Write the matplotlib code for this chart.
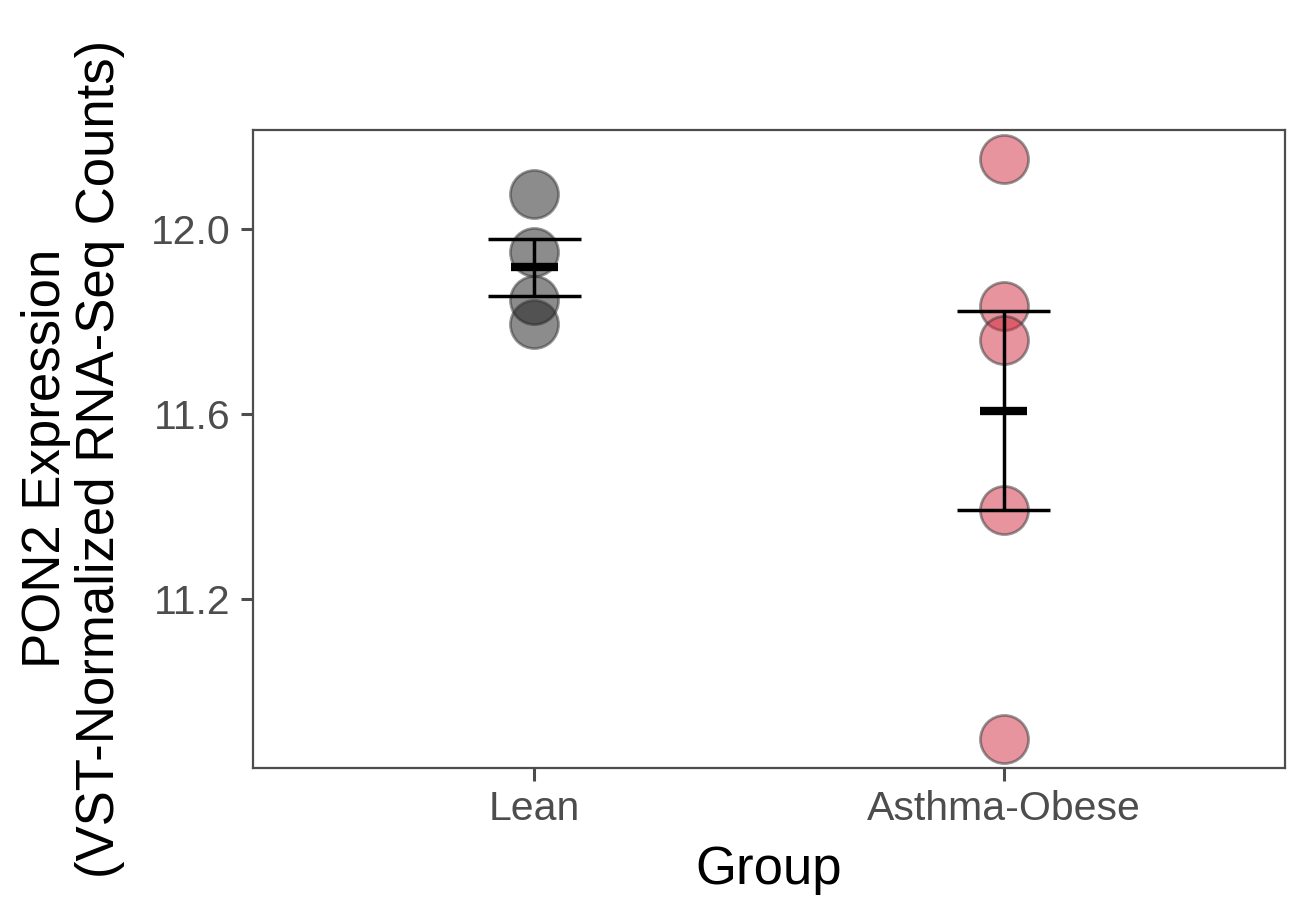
import numpy as np
import matplotlib
matplotlib.use("Agg")
import matplotlib.pyplot as plt

# === DATA ===
groups = ["Lean", "Asthma-Obese"]
lean_vals = [12.075, 11.949, 11.845, 11.795]
obese_vals = [12.150, 11.834, 11.759, 11.394, 10.899]
group_vals = [lean_vals, obese_vals]
point_colors = ["#1a1a1a", "#d02a3e"]

plt.rcParams["font.family"] = ["Liberation Sans", "DejaVu Sans"]

fig = plt.figure(figsize=(12.92, 8.99), dpi=100)
ax = fig.add_axes([0.1958, 0.1457, 0.7988, 0.7097])

for i, (vals, col) in enumerate(zip(group_vals, point_colors)):
    x = i + 1
    vals = np.array(vals)
    ax.scatter(np.full(len(vals), x), vals, s=1200, facecolor=col,
               edgecolor="#333333", linewidth=2, alpha=0.5, zorder=2)
    # mean +/- standard error
    m = vals.mean()
    se = vals.std(ddof=1) / np.sqrt(len(vals))
    ax.vlines(x, m - se, m + se, color="black", lw=2.5, zorder=3)
    ax.hlines([m - se, m + se], x - 0.1, x + 0.1, color="black", lw=2.5, zorder=3)
    ax.hlines(m, x - 0.05, x + 0.05, color="black", lw=6, zorder=3)

# ggplot-style expansion
allv = np.concatenate([np.array(v) for v in group_vals])
rng = allv.max() - allv.min()
ax.set_ylim(allv.min() - 0.05 * rng, allv.max() + 0.05 * rng)
ax.set_xlim(0.4, 2.6)

ax.set_xticks([1, 2])
ax.set_xticklabels(groups)
ax.set_yticks([11.2, 11.6, 12.0])
ax.set_yticklabels(["11.2", "11.6", "12.0"])

for sp in ax.spines.values():
    sp.set_color("#4d4d4d")
    sp.set_linewidth(1.6)
ax.tick_params(axis="both", colors="#4d4d4d", labelsize=29.5, length=9, width=2.2, pad=7)
for lab in ax.get_xticklabels() + ax.get_yticklabels():
    lab.set_color("#4d4d4d")

ax.set_xlabel("Group", fontsize=38, labelpad=12)
ax.set_ylabel("PON2 Expression\n(VST-Normalized RNA-Seq Counts)", fontsize=38,
              labelpad=12, linespacing=1.1)
ax.yaxis.set_label_coords(-0.124, 0.485)

fig.savefig("out.png", dpi=100)
